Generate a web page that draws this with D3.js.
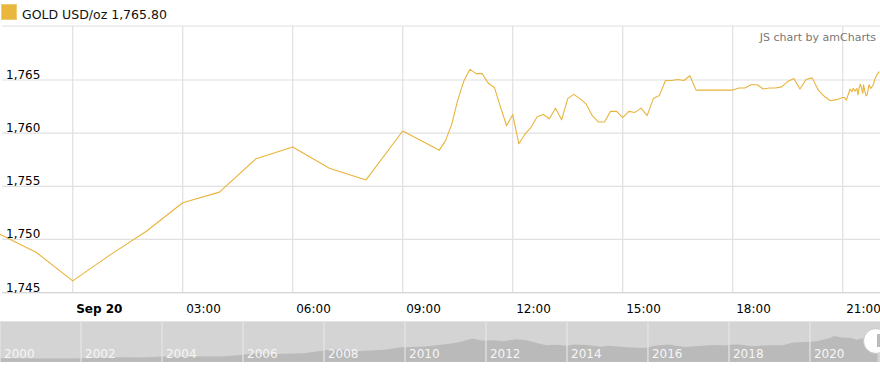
<!DOCTYPE html>
<html>
<head>
<meta charset="utf-8">
<script src="https://cdn.jsdelivr.net/npm/d3@7"></script>
<style>
  html, body { margin: 0; padding: 0; background: #fff; }
  svg { display: block; font-family: "DejaVu Sans", Verdana, sans-serif; }
</style>
</head>
<body>
<svg id="chart" width="880" height="369"></svg>
<script>
// ---------- data ----------
const seriesName = "GOLD USD/oz";
const lastValueLabel = "1,765.80";

const times = [
  "09-19 22:00","09-19 23:00","09-20 00:00","09-20 01:00","09-20 02:00","09-20 03:00",
  "09-20 04:00","09-20 05:00","09-20 06:00","09-20 07:00","09-20 08:00","09-20 09:00",
  "09-20 10:00","09-20 10:10","09-20 10:20","09-20 10:30","09-20 10:40","09-20 10:50",
  "09-20 11:00","09-20 11:10","09-20 11:20","09-20 11:30","09-20 11:40","09-20 11:50",
  "09-20 12:00","09-20 12:10","09-20 12:20","09-20 12:30","09-20 12:40","09-20 12:50",
  "09-20 13:00","09-20 13:10","09-20 13:20","09-20 13:30","09-20 13:40","09-20 13:50",
  "09-20 14:00","09-20 14:10","09-20 14:20","09-20 14:30","09-20 14:40","09-20 14:50",
  "09-20 15:00","09-20 15:10","09-20 15:20","09-20 15:30","09-20 15:40","09-20 15:50",
  "09-20 16:00","09-20 16:10","09-20 16:20","09-20 16:30","09-20 16:40","09-20 16:50",
  "09-20 17:00","09-20 18:00","09-20 18:10","09-20 18:20","09-20 18:30","09-20 18:40",
  "09-20 18:50","09-20 19:00","09-20 19:10","09-20 19:20","09-20 19:30","09-20 19:40",
  "09-20 19:50","09-20 20:00","09-20 20:10","09-20 20:20","09-20 20:30","09-20 20:40",
  "09-20 20:50","09-20 21:00","09-20 21:03","09-20 21:06","09-20 21:12","09-20 21:15",
  "09-20 21:17","09-20 21:20","09-20 21:23","09-20 21:25","09-20 21:27","09-20 21:29",
  "09-20 21:33","09-20 21:34","09-20 21:38","09-20 21:40","09-20 21:43","09-20 21:46",
  "09-20 21:50","09-20 21:53","09-20 21:56","09-20 22:00"
];
const prices = [
  1750.5, 1748.8, 1746.1, 1748.5, 1750.75, 1753.45,
  1754.45, 1757.6, 1758.7, 1756.7, 1755.6, 1760.2,
  1758.4, 1759.3, 1760.8, 1763.1, 1764.9, 1766.0,
  1765.6, 1765.6, 1764.7, 1764.3, 1762.45, 1760.7,
  1761.75, 1759.0, 1759.9, 1760.55, 1761.55, 1761.75,
  1761.35, 1762.35, 1761.25, 1763.25, 1763.65, 1763.25,
  1762.75, 1761.65, 1761.05, 1761.05, 1762.05, 1762.05,
  1761.45, 1762.05, 1761.95, 1762.35, 1761.65, 1763.25,
  1763.55, 1764.95, 1764.95, 1765.05, 1764.95, 1765.4,
  1764.05, 1764.05, 1764.25, 1764.25, 1764.55, 1764.55,
  1764.15, 1764.25, 1764.25, 1764.35, 1764.85, 1765.15,
  1764.15, 1765.05, 1765.2, 1764.05, 1763.45, 1763.05,
  1763.15, 1763.35, 1763.35, 1763.1, 1764.15, 1763.9,
  1764.2, 1763.95, 1764.2, 1763.6, 1764.3, 1764.6,
  1763.75, 1764.55, 1763.5, 1763.6, 1764.55, 1764.2,
  1764.55, 1765.15, 1765.5, 1765.8
];
const yTicks = [1745, 1750, 1755, 1760, 1765];
const xDomainStrings = ["09-19 22:01", "09-20 22:01"];

// long-term history for the scrollbar
const histDates = [
  "2000-01","2000-07","2001-01","2001-07","2002-01","2002-07","2003-01","2003-07",
  "2004-01","2004-07","2005-01","2005-07","2006-01","2006-05","2006-07","2007-01",
  "2007-07","2008-01","2008-03","2008-07","2008-10","2009-01","2009-07","2009-12",
  "2010-07","2011-01","2011-05","2011-09","2011-12","2012-03","2012-06","2012-10",
  "2013-01","2013-04","2013-07","2013-10","2014-01","2014-03","2014-07","2014-11",
  "2015-01","2015-07","2015-12","2016-03","2016-07","2016-12","2017-06","2017-09",
  "2017-12","2018-01","2018-04","2018-08","2019-01","2019-05","2019-08","2020-01",
  "2020-03","2020-07","2020-08","2020-11","2021-01","2021-03","2021-05","2021-06",
  "2021-08","2021-09"
];
const histPrices = [
  285, 282, 265, 268, 282, 314, 356, 346,
  413, 398, 424, 424, 549, 675, 633, 631,
  665, 889, 968, 939, 806, 858, 934, 1135,
  1193, 1356, 1512, 1800, 1642, 1674, 1598, 1747,
  1670, 1467, 1286, 1316, 1244, 1336, 1311, 1176,
  1251, 1131, 1068, 1246, 1336, 1157, 1260, 1314,
  1265, 1331, 1335, 1202, 1291, 1283, 1500, 1560,
  1590, 1840, 2000, 1866, 1867, 1718, 1850, 1834,
  1785, 1765
];
const histYears = [2000, 2002, 2004, 2006, 2008, 2010, 2012, 2014, 2016, 2018, 2020];
const histDomainStrings = ["2000-01-01", "2021-09-24"];

// ---------- setup ----------
const svg = d3.select("#chart");
const W = 880;
const plot = { left: 0, right: 880, top: 26, bottom: 292.6 };
const lineColor = "#e8b43a";
const gridColor = "#e0e0e0";

const parseT = d3.timeParse("%m-%d %H:%M");
const data = times.map((t, i) => ({ t: parseT(t), v: prices[i] }));

const x = d3.scaleTime()
  .domain(xDomainStrings.map(parseT))
  .range([plot.left, plot.right]);
const y = d3.scaleLinear()
  .domain([1745, 1770.08])
  .range([plot.bottom, plot.top]);

// clip
svg.append("defs").append("clipPath").attr("id", "plotclip")
  .append("rect").attr("x", plot.left).attr("y", plot.top)
  .attr("width", plot.right - plot.left).attr("height", plot.bottom - plot.top + 1);

// horizontal grid
const gridG = svg.append("g");
gridG.selectAll("line.h").data(yTicks).join("line")
  .attr("x1", 2).attr("x2", W)
  .attr("y1", d => y(d)).attr("y2", d => y(d))
  .attr("stroke", gridColor).attr("stroke-width", 1.2);
// top border
gridG.append("line").attr("x1", 2).attr("x2", W)
  .attr("y1", plot.top).attr("y2", plot.top)
  .attr("stroke", gridColor).attr("stroke-width", 1.2);

// vertical grid
const xTicks = x.ticks(d3.timeHour.every(3));
gridG.selectAll("line.v").data(xTicks).join("line")
  .attr("x1", d => x(d)).attr("x2", d => x(d))
  .attr("y1", plot.top).attr("y2", plot.bottom)
  .attr("stroke", gridColor).attr("stroke-width", 1.2);

// bottom axis line
svg.append("line").attr("x1", 2).attr("x2", W)
  .attr("y1", plot.bottom).attr("y2", plot.bottom)
  .attr("stroke", "#d8d8d8").attr("stroke-width", 1.2);

// y labels (inside)
const yAxis = svg.append("g").attr("transform", `translate(${plot.left},0)`)
  .call(d3.axisRight(y).tickValues(yTicks).tickSize(0).tickFormat(d3.format(",")));
yAxis.select(".domain").remove();
yAxis.selectAll("text")
  .attr("x", 6).attr("dy", "-1.5")
  .attr("fill", "#000").style("font-size", "12px")
  .style("font-family", '"DejaVu Sans", Verdana, sans-serif');

// x labels
const fmtH = d3.timeFormat("%H:%M");
const fmtDay = d3.timeFormat("%b %d");
const xAxis = svg.append("g").attr("transform", `translate(0,${plot.bottom})`)
  .call(d3.axisBottom(x).tickValues(xTicks).tickSize(0)
    .tickFormat(d => (d.getHours() === 0 ? fmtDay(d) : fmtH(d))));
xAxis.select(".domain").remove();
xAxis.selectAll("text")
  .attr("text-anchor", "start").attr("x", 3).attr("y", 20.5).attr("dy", 0)
  .attr("fill", "#000").style("font-size", "12px")
  .style("font-family", '"DejaVu Sans", Verdana, sans-serif')
  .style("font-weight", d => (d.getHours() === 0 ? "bold" : "normal"));

// line
svg.append("path").datum(data)
  .attr("clip-path", "url(#plotclip)")
  .attr("fill", "none").attr("stroke", lineColor).attr("stroke-width", 1.1)
  .attr("stroke-linejoin", "round")
  .attr("d", d3.line().x(d => x(d.t)).y(d => y(d.v)));

// legend
svg.append("rect").attr("x", 1.5).attr("y", 4.5).attr("width", 15).attr("height", 15)
  .attr("fill", "#e8b73b").attr("stroke", "#f0cd74").attr("stroke-width", 1);
svg.append("text").attr("x", 22).attr("y", 19)
  .style("font-size", "12.5px").attr("fill", "#111")
  .text(seriesName + " " + lastValueLabel);

// credit
svg.append("text").attr("x", 876).attr("y", 40.5).attr("text-anchor", "end")
  .style("font-size", "11px").attr("fill", "#777")
  .text("JS chart by amCharts");

// ---------- scrollbar ----------
const sb = { top: 321, bottom: 362 };
const parseM = d3.timeParse("%Y-%m");
const parseD = d3.timeParse("%Y-%m-%d");
const hist = histDates.map((d, i) => ({ t: parseM(d), v: histPrices[i] }));
const hx = d3.scaleTime().domain(histDomainStrings.map(parseD)).range([0, W]);
const hy = d3.scaleLinear().domain([0, 3150]).range([sb.bottom, sb.top]);

const sbG = svg.append("g");
sbG.append("rect").attr("x", 0).attr("y", sb.top).attr("width", W)
  .attr("height", sb.bottom - sb.top).attr("fill", "#d4d4d4");
sbG.append("path").datum(hist)
  .attr("fill", "#bababa")
  .attr("d", d3.area().x(d => hx(d.t)).y0(sb.bottom).y1(d => hy(d.v)));
sbG.selectAll("line.yr").data(histYears).join("line")
  .attr("x1", d => hx(new Date(d, 0, 1))).attr("x2", d => hx(new Date(d, 0, 1)))
  .attr("y1", sb.top).attr("y2", sb.bottom)
  .attr("stroke", "#e6e6e6").attr("stroke-width", 1.2);
sbG.selectAll("text.yr").data(histYears).join("text")
  .attr("x", d => hx(new Date(d, 0, 1)) + 4).attr("y", 357.5)
  .style("font-size", "12px").attr("fill", "#f6f6f6")
  .text(d => d);
sbG.append("line").attr("x1", 0).attr("x2", W).attr("y1", sb.top + 0.5).attr("y2", sb.top + 0.5)
  .attr("stroke", "#e2e2e2");

// grip
sbG.append("circle").attr("cx", 876).attr("cy", 341).attr("r", 12.5)
  .attr("fill", "#ffffff").attr("stroke", "#c8c8c8").attr("stroke-width", 1);
sbG.append("rect").attr("x", 877).attr("y", 334).attr("width", 3).attr("height", 13)
  .attr("fill", "#bbbbbb");
</script>
</body>
</html>
